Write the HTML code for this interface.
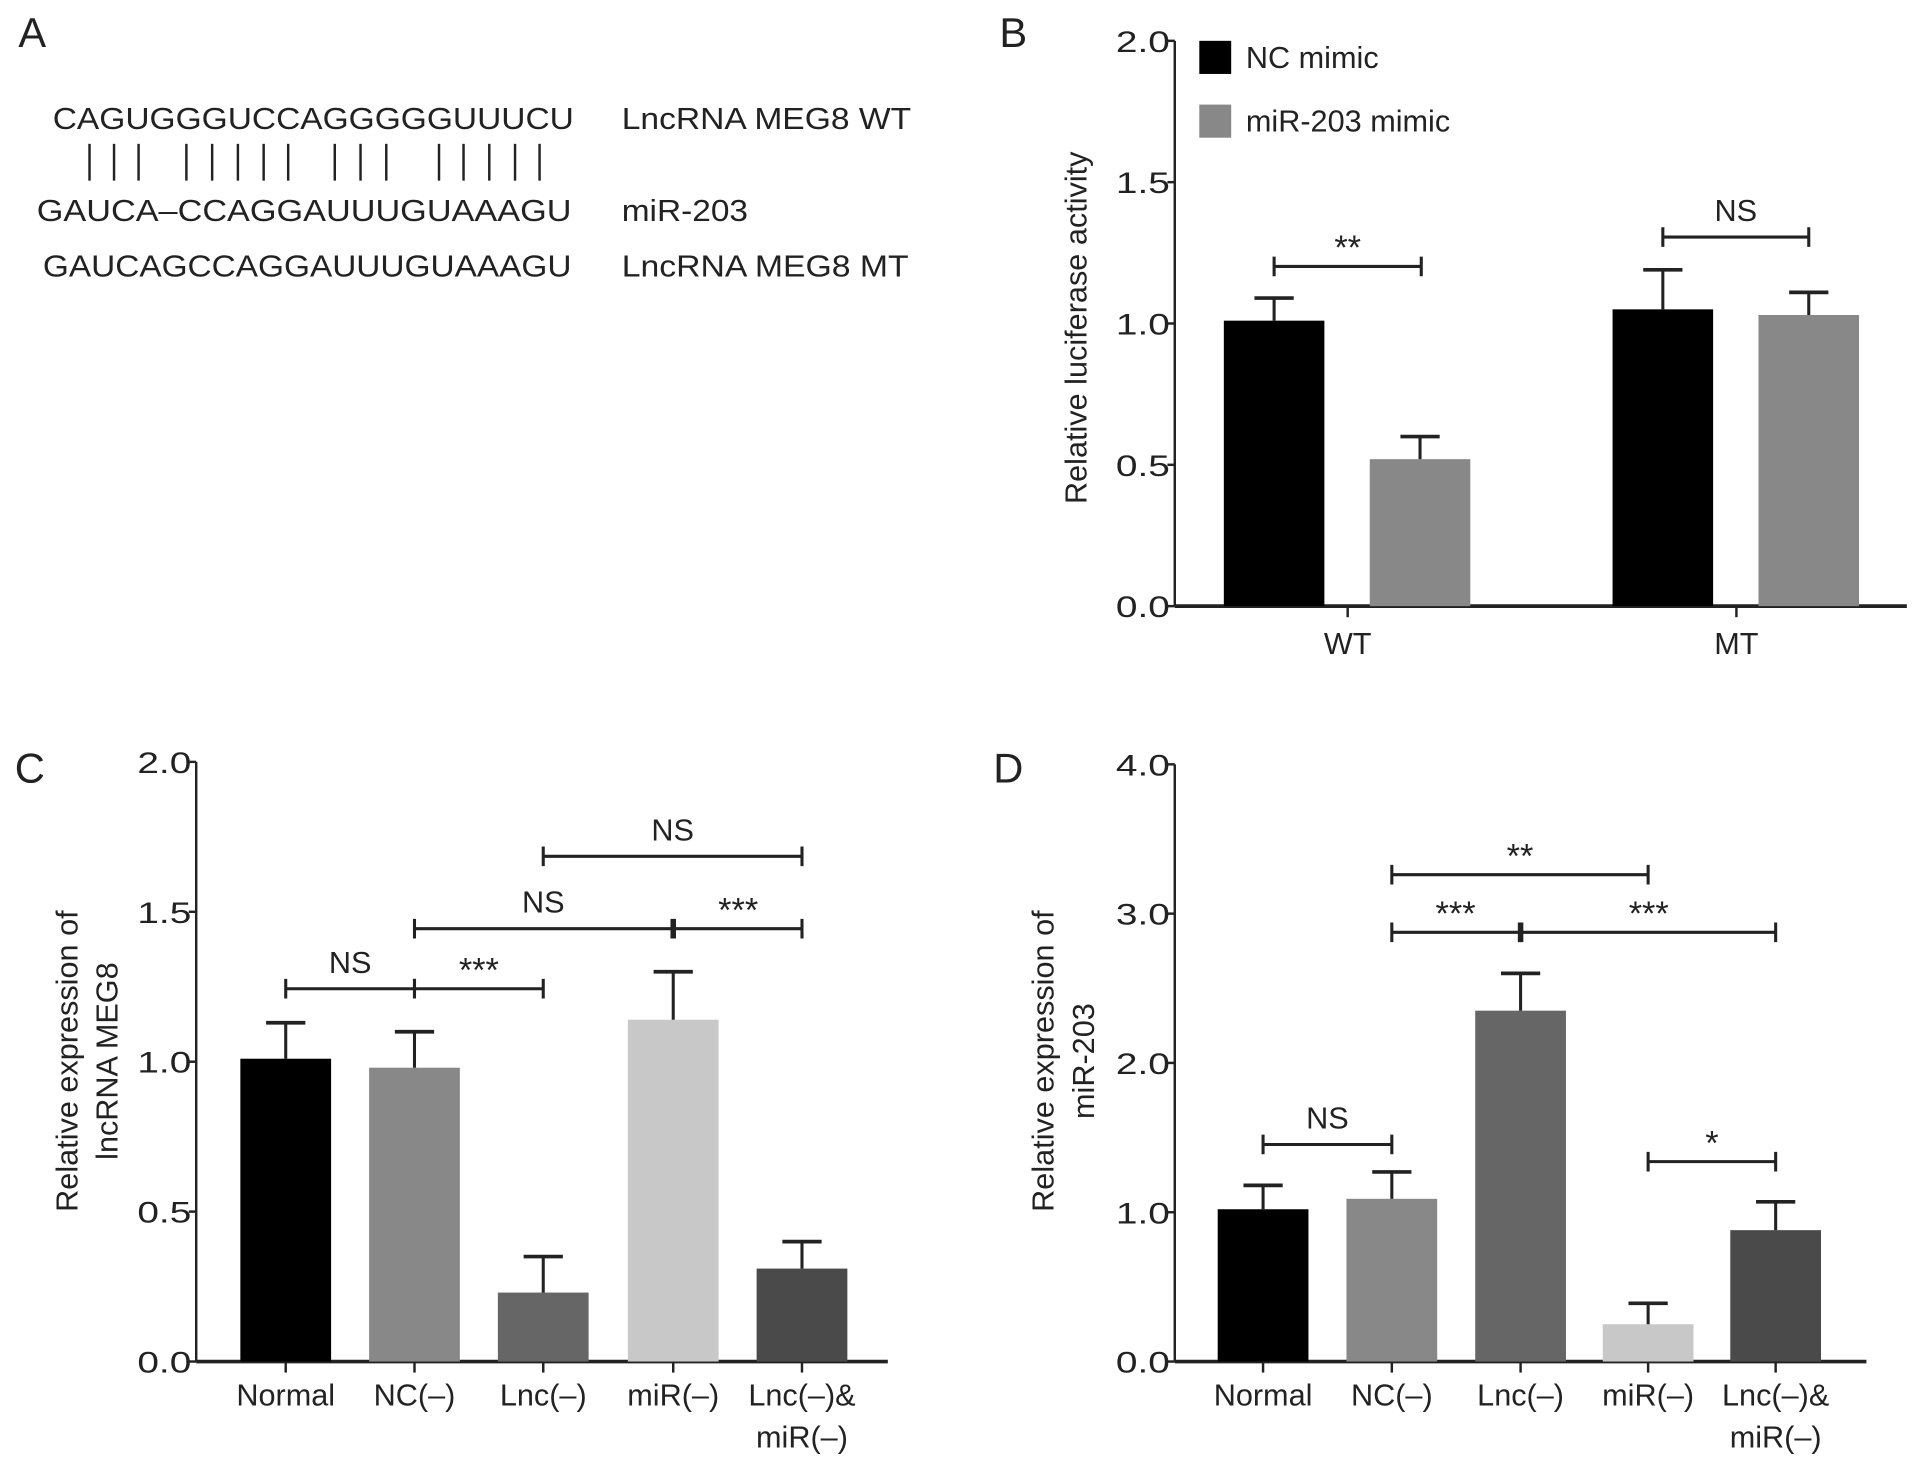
<!DOCTYPE html>
<html><head><meta charset="utf-8">
<style>html,body{margin:0;padding:0;background:#fff}svg{display:block;font-family:"Liberation Sans",sans-serif}</style>
</head><body>
<svg id="fig" width="1913" height="1460" viewBox="0 0 1560 1190" xmlns="http://www.w3.org/2000/svg">
<rect width="1560" height="1190" fill="#fff"/>
<g font-size="25" fill="#222">
<text x="15" y="38" font-size="34">A</text>
<text x="43" y="105" textLength="425" lengthAdjust="spacingAndGlyphs">CAGUGGGUCCAGGGGGUUUCU</text>
<text x="507" y="105" textLength="236" lengthAdjust="spacingAndGlyphs">LncRNA MEG8 WT</text>
<g id="pairs" stroke="#222" stroke-width="2"></g>
<text x="30" y="180" textLength="436" lengthAdjust="spacingAndGlyphs">GAUCA–CCAGGAUUUGUAAAGU</text>
<text x="507" y="180" textLength="103" lengthAdjust="spacingAndGlyphs">miR-203</text>
<text x="35" y="225" textLength="431" lengthAdjust="spacingAndGlyphs">GAUCAGCCAGGAUUUGUAAAGU</text>
<text x="507" y="225" textLength="234" lengthAdjust="spacingAndGlyphs">LncRNA MEG8 MT</text>
</g>
<g id="pb"></g>
<g id="pc"></g>
<g id="pd"></g>
</svg>
<script>
// Panel B data
const bGroups = ["WT", "MT"];
const bNC = [1.01, 1.05];
const bNCerr = [0.08, 0.14];
const bMiR = [0.52, 1.03];
const bMiRerr = [0.08, 0.08];
const bTicks = ["0.0","0.5","1.0","1.5","2.0"];
// Panel C data
const cCats = ["Normal","NC(–)","Lnc(–)","miR(–)","Lnc(–)&"];
const cVals = [1.01, 0.98, 0.23, 1.14, 0.31];
const cErrs = [0.12, 0.12, 0.12, 0.16, 0.09];
const cTicks = ["0.0","0.5","1.0","1.5","2.0"];
// Panel D data
const dCats = ["Normal","NC(–)","Lnc(–)","miR(–)","Lnc(–)&"];
const dVals = [1.02, 1.09, 2.35, 0.25, 0.88];
const dErrs = [0.16, 0.18, 0.25, 0.14, 0.19];
const dTicks = ["0.0","1.0","2.0","3.0","4.0"];
const barColors = ["#000","#888","#666","#c8c8c8","#4a4a4a"];

const NS="http://www.w3.org/2000/svg";
function mk(p,t,a){const e=document.createElementNS(NS,t);for(const k in a)e.setAttribute(k,a[k]);p.appendChild(e);return e;}
function txt(p,x,y,s,size,anchor,extra){const e=mk(p,"text",Object.assign({x:x,y:y,"font-size":size,"text-anchor":anchor||"middle",fill:"#222"},extra||{}));e.textContent=s;return e;}

const pg=document.getElementById("pairs");
[73,93,113,152,173,194,215,235,273,294,315,358,378,399,420,440].forEach(x=>{
 const l=mk(pg,"line",{x1:x,x2:x,y1:117,y2:147});
 
 
});

function axes(g,ax,y0,yTop,xEnd,ticks,maxV,ticksX){
 const ys=v=>y0-(v/maxV)*(y0-yTop);
 mk(g,"line",{x1:ax,x2:ax,y1:yTop,y2:y0,stroke:"#222","stroke-width":2});
 mk(g,"line",{x1:ax,x2:xEnd,y1:y0,y2:y0,stroke:"#222","stroke-width":3});
 ticks.forEach((t,i)=>{const v=maxV*i/(ticks.length-1);const y=ys(v);
  mk(g,"line",{x1:ax-6,x2:ax,y1:y,y2:y,stroke:"#222","stroke-width":2});
  const e=txt(g,ax-4,y+9,t,24,"end",{textLength:44,lengthAdjust:"spacingAndGlyphs"});
  
  
 });
 ticksX.forEach(x=>mk(g,"line",{x1:x,x2:x,y1:y0,y2:y0+9,stroke:"#222","stroke-width":2}));
 return ys;
}
function bar(g,cx,w,v,err,col,ys,name){
 const r=mk(g,"rect",{x:cx-w/2,y:ys(v),width:w,height:ys(0)-ys(v),fill:col});
 
 
 mk(g,"line",{x1:cx,x2:cx,y1:ys(v),y2:ys(v+err),stroke:"#222","stroke-width":2.5});
 mk(g,"line",{x1:cx-16,x2:cx+16,y1:ys(v+err),y2:ys(v+err),stroke:"#222","stroke-width":3});
}
function bracket(g,x1,x2,y,label){
 const b=mk(g,"path",{d:`M${x1} ${y-8}V${y+8}M${x1} ${y}H${x2}M${x2} ${y-8}V${y+8}`,fill:"none",stroke:"#222","stroke-width":2.5});
 
 
 const star=label.indexOf("*")>=0;
 const t=txt(g,(x1+x2)/2,star?y-6:y-13,label,star?28:25,"middle");
 
 
}

// Panel B
(function(){
 const g=document.getElementById("pb");
 txt(g,815,38,"B",34,"start");
 const xc=[1099,1416];
 const ys=axes(g,958,494,33,1555,bTicks,2.0,xc);
 bGroups.forEach((n,i)=>{
  bar(g,xc[i]-60,82,bNC[i],bNCerr[i],"#000",ys,"bar-nc-"+n.toLowerCase());
  bar(g,xc[i]+59,82,bMiR[i],bMiRerr[i],"#888",ys,"bar-mir-"+n.toLowerCase());
  const t=txt(g,xc[i],533,n,25,"middle");
  
  
 });
 bracket(g,1039,1159,217,"**");
 bracket(g,1356,1475,193,"NS");
 const yl=txt(g,0,0,"Relative luciferase activity",25,"middle",{transform:"translate(886,267) rotate(-90)"});
 
 
 const l1=mk(g,"rect",{x:978,y:33,width:26,height:27,fill:"#000"});
 
 
 const lt1=txt(g,1016,55,"NC mimic",25,"start");
 
 
 const l2=mk(g,"rect",{x:978,y:85,width:26,height:27,fill:"#888"});
 
 
 const lt2=txt(g,1016,107,"miR-203 mimic",25,"start");
 
 
})();

function catPanel(id,letter,ax,yTop,maxV,ticks,cats,vals,errs,xc,yl1,yl2,ylx){
 const g=document.getElementById(id);
 txt(g,ax-148,638,letter,34,"start");
 const ys=axes(g,ax,1110,yTop,ax+564,ticks,maxV,xc);
 cats.forEach((c,i)=>{
  bar(g,xc[i],74,vals[i],errs[i],barColors[i],ys,"bar-"+i);
  const t=txt(g,xc[i],1146,c,25,"middle");
  
  
 });
 const t2=txt(g,xc[4],1180,"miR(–)",25,"middle");
 
 
 const a=txt(g,0,0,yl1,25,"middle",{transform:`translate(${ylx},865) rotate(-90)`});
 
 
 const b=txt(g,0,0,yl2,25,"middle",{transform:`translate(${ylx+33},865) rotate(-90)`});
 
 
 return g;
}
(function(){
 const xc=[233,338,443,549,654];
 const g=catPanel("pc","C",160,621,2.0,cTicks,cCats,cVals,cErrs,xc,"Relative expression of","lncRNA MEG8",63);
 bracket(g,233,338,806,"NS");
 bracket(g,338,443,806,"***");
 bracket(g,338,548,757,"NS");
 bracket(g,550,654,757,"***");
 bracket(g,443,654,698,"NS");
})();
(function(){
 const xc=[1030,1135,1240,1344,1448];
 const g=catPanel("pd","D",958,623,4.0,dTicks,dCats,dVals,dErrs,xc,"Relative expression of","miR-203",859);
 bracket(g,1030,1135,933,"NS");
 bracket(g,1344,1448,947,"*");
 bracket(g,1135,1239,760,"***");
 bracket(g,1241,1448,760,"***");
 bracket(g,1135,1344,713,"**");
})();
</script>
</body></html>
